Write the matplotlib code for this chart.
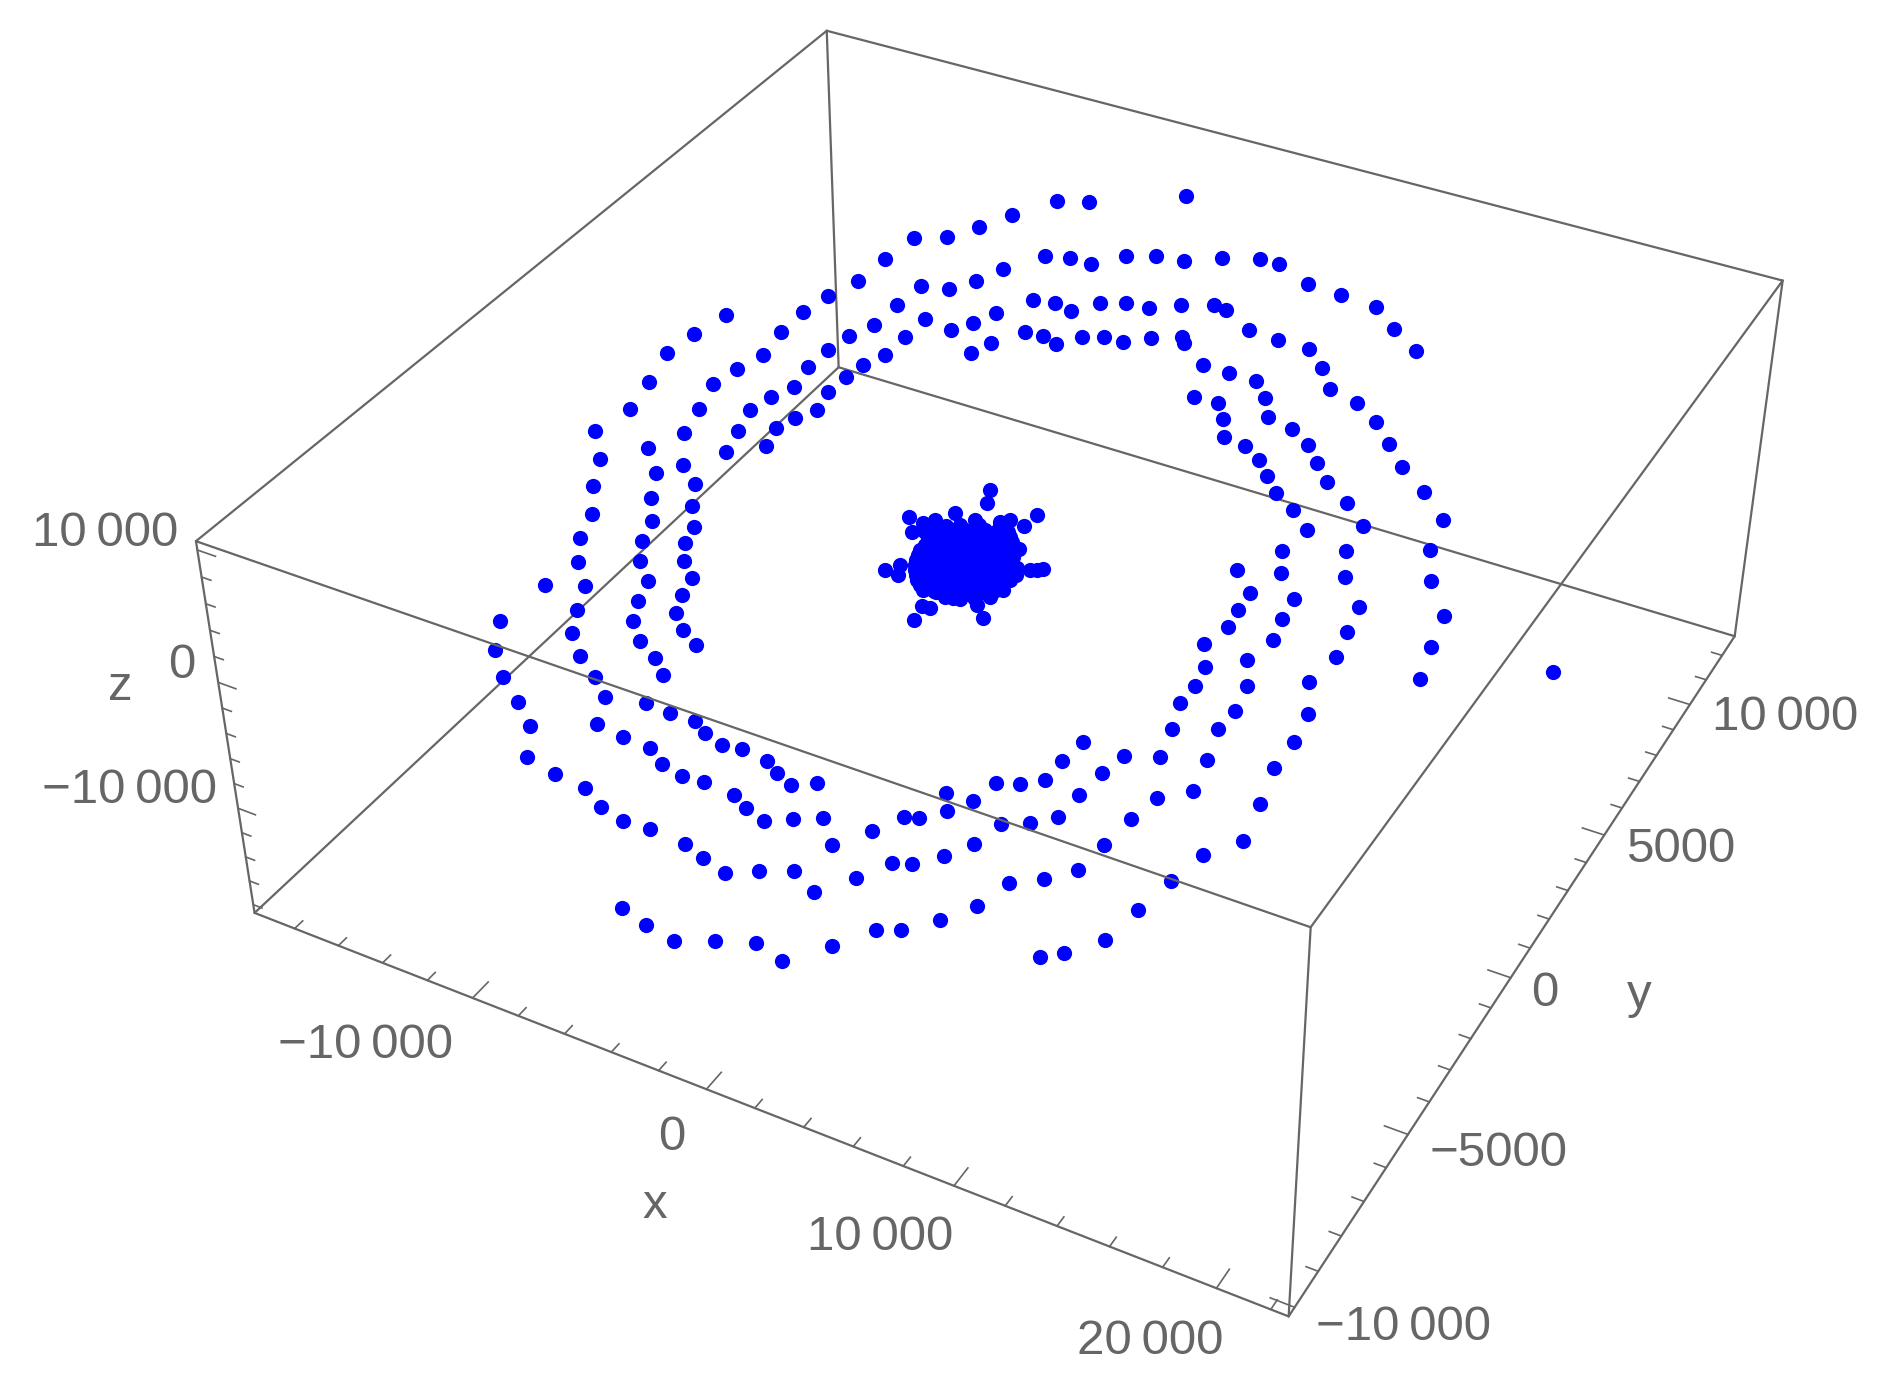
import numpy as np
import matplotlib
matplotlib.use('Agg')
import matplotlib.pyplot as plt

plt.rcParams['font.family'] = ['Liberation Sans', 'DejaVu Sans']

# box limits
x_lim = (-19850, 22650)
y_lim = (-10250, 12800)
z_lim = (-18700, 10650)

# points, in tens of data units, on the plane z = 0
ring_x = [-1703,-1438,-1741,-1441,-1758,-1412,-1708,-1449,-1208,-1473,-1180,-1665,-1428,-1223,
          -1249,-1701,-1062,-1387,-1208,-1091,-1453,-1176,-1060,-948,-827,-1062,-1136,-1213,
          -1332,-1354,-1364,-1413,-781,-679,-579,-484,-884,-937,-1002,-1116,-1132,-1136,
          -1182,-1203,-658,-569,-484,-406,-313,-213,-745,-789,-843,-973,-981,-981,
          -1023,-1037,-1045,-1016,-569,-493,-417,-351,-273,-188,-102,-650,-687,-486,
          -372,-252,-124,19,107,276,434,599,731,877,-107,12,71,219,
          355,492,597,689,826,949,1056,4,32,171,288,408,491,560,
          678,780,242,345,414,472,572,-1578,-1272,-1333,-1160,-1497,-1259,-1095,
          -1396,-1172,-1013,-1349,-1137,-986,-1268,-1069,-925,-844,-1297,-1162,-976,-817,
          -938,-1106,-778,-888,-1315,-700,-1043,-800,-1230,-609,-939,-697,-617,-1112,
          -823,-728,-983,-582,-476,-374,-867,-667,-306,-546,-430,-219,-146,-779,
          -641,-343,-35,30,-249,-165,106,-506,-39,-400,38,208,125,-292,
          -189,-45,49,154,251,353,466,-48,68,189,309,429,553,180,
          295,394,658,551,476,743,620,815,535,679,582,904,753,596,
          648,697,811,975,721,842,1014,797,925,1279,1105,862,995,865,
          1338,1184,1003,876,1015,1198,1426,1039,1217,1452,1267,1501,1118,1258,
          1525,1152,1303,1525,1246,1335,1568,1601,1515,1483,659,867,1164,734,
          955,1308,812,1078,920,1444,1195,1021,996,1206,1479,904,1052,1272,
          1562,1007,1166,1394,1015,1689,1180,1029,1419,1204,997,1725,1448,1173,
          1060,2167,1765,1425,1240,1079,1078]
ring_y = [571,663,472,569,377,469,263,396,477,320,393,155,224,337,
          273,49,292,131,191,240,47,114,172,1355,1387,1250,1167,1092,
          1054,942,831,747,1126,1146,1144,1213,1032,959,900,883,787,691,
          625,556,948,959,948,1006,1034,1041,862,800,753,764,681,595,
          539,479,413,339,822,826,811,863,886,890,932,748,691,1518,
          1246,1258,1309,1347,1347,1300,1291,1283,1220,1160,1086,1119,1114,1064,
          1059,1057,1000,933,911,863,801,967,949,888,886,886,835,772,
          756,717,766,769,720,661,650,-34,31,-23,-18,-125,-103,-87,
          -209,-172,-148,-291,-240,-207,-364,-302,-260,-302,-461,-425,-352,-360,
          -418,-499,-415,-479,-603,-456,-569,-525,-686,-485,-623,-559,-597,-750,
          -665,-709,-801,-686,-693,-690,-851,-787,-712,-797,-801,-728,-721,-933,
          -950,-830,-727,-749,-843,-838,-768,-957,-843,-990,-866,-850,-881,-1005,
          -1000,-1006,-1025,-1041,-1007,-977,-1009,-1210,-1228,-1241,-1207,-1176,-1196,-739,
          -821,-880,-1120,-940,-813,-1045,-873,-1024,-749,-858,-738,-969,-810,-652,
          -697,-647,-755,-904,-582,-683,-820,-562,-653,-970,-780,-531,-614,-466,
          -940,-730,-540,-395,-460,-644,-876,-396,-554,-777,-173,-117,-280,-239,
          -206,-367,-333,-295,-479,-428,-402,-513,-584,-677,617,664,734,573,
          610,672,525,561,486,599,501,435,343,404,489,241,274,324,
          393,183,208,244,121,296,135,61,157,65,-12,191,73,-18,
          -75,229,87,-25,-92,-140,-202]
# the central clump, its outline first; the inside is a solid mass, so these are estimates
core_x = [-153,-119,81,10,74,-333,-269,
          -277,-194,-243,-210,-186,229,251,268,-12,21,7,218,161,-239,
          -106,-17,-233,-174,-108,-42,40,-191,-119,-60,6,85,-192,-120,
          -61,11,70,122,-174,-105,-46,25,84,143,-145,-90,-31,40,
          99,157,-108,-27,32,103,161,194,-57,20,79,149,201,35,
          90,138,180,
          -185,-140,-75,-5,-212,-146,-84,-18,62,-192,-120,-60,8,78,128,
          -183,-112,-53,18,77,132,180,-160,-98,-38,32,92,150,200,
          -126,-58,2,72,130,176,-82,-3,55,126,181,-10,63,115,165,
          -203,-141,-75,0,-155,-90,-27,45,-156,-90,-25,40,96,
          -140,-75,-10,55,113,-118,-60,5,70,128,-68,2,67,132,178,-18,50,114,175]
core_y = [253,209,221,179,174,89,86,
          46,146,-94,-64,-96,45,51,61,-164,-163,-212,-141,-110,106,
          145,163,59,85,104,123,139,40,53,78,97,112,0,13,
          38,51,76,84,-34,-22,3,16,41,51,-65,-57,-32,-19,
          6,24,-93,-77,-52,-39,-14,-4,-116,-102,-77,-64,-41,-116,
          -108,-94,-74,
          98,115,132,150,50,70,90,110,125,20,33,58,74,94,98,
          -17,-5,20,33,58,68,38,-50,-40,-15,-2,23,38,15,
          -79,-67,-42,-29,-4,10,-105,-90,-64,-52,-27,-110,-110,-86,-68,
          72,95,113,131,46,65,88,104,6,25,44,64,80,
          -28,-10,10,28,46,-61,-45,-25,-7,15,-85,-65,-45,-27,-9,-109,-90,-70,-52]

x_major = [-10000, 0, 10000, 20000]
y_major = [-10000, -5000, 0, 5000, 10000]
z_major = [-10000, 0, 10000]
x_minor = [-18000,-16000,-14000,-12000,-8000,-6000,-4000,-2000,2000,4000,6000,8000,
           12000,14000,16000,18000,22000]
y_minor = [-9000,-8000,-7000,-6000,-4000,-3000,-2000,-1000,1000,2000,3000,4000,
           6000,7000,8000,9000,11000,12000]
z_minor = [-18000,-16000,-14000,-12000,-8000,-6000,-4000,-2000,2000,4000,6000,8000]

grey = '#666666'
W = 1893
H = 1395

xs = np.array(ring_x + core_x) * 10
ys = np.array(ring_y + core_y) * 10
zs = np.zeros(len(xs))

fig = plt.figure(figsize=(W / 100, H / 100), dpi=100)
# camera values come from fitting the box corners
ax_w = 1608.09
ax = fig.add_axes([202.83 / W, (H - 1418.38) / H, ax_w / W, ax_w / H],
                  projection='3d', computed_zorder=False)
ax.set_xlim(*x_lim)
ax.set_ylim(*y_lim)
ax.set_zlim(*z_lim)
ax.set_box_aspect((1, 1, 0.3993))
ax.view_init(elev=36.185, azim=-61.534, roll=0.04)
ax.set_proj_type('persp', focal_length=0.4419)
ax.set_axis_off()
ax.patch.set_alpha(0)


def edge(a, b, zo):
    ax.plot([a[0], b[0]], [a[1], b[1]], [a[2], b[2]], color=grey, lw=1.6, zorder=zo,
            solid_capstyle='round', clip_on=False)


x0, x1 = x_lim
y0, y1 = y_lim
z0, z1 = z_lim
# back and bottom edges sit under the dots, top edges over them
edge((x0, y0, z0), (x1, y0, z0), 1)
edge((x1, y0, z0), (x1, y1, z0), 1)
edge((x1, y1, z0), (x0, y1, z0), 1)
edge((x0, y1, z0), (x0, y0, z0), 1)
edge((x0, y0, z0), (x0, y0, z1), 1)
edge((x1, y0, z0), (x1, y0, z1), 1)
edge((x1, y1, z0), (x1, y1, z1), 1)
edge((x0, y1, z0), (x0, y1, z1), 1)
edge((x0, y0, z1), (x1, y0, z1), 3)
edge((x1, y0, z1), (x1, y1, z1), 3)
edge((x1, y1, z1), (x0, y1, z1), 3)
edge((x0, y1, z1), (x0, y0, z1), 3)


def tick(a, b):
    ax.plot([a[0], b[0]], [a[1], b[1]], [a[2], b[2]], color=grey, lw=1.2, zorder=1, clip_on=False)


y_span = y1 - y0
x_span = x1 - x0
for v, n in [(t, 0.023) for t in x_major] + [(t, 0.0115) for t in x_minor]:
    tick((v, y0, z0), (v, y0 + n * y_span, z0))
for v, n in [(t, 0.021) for t in y_major] + [(t, 0.0105) for t in y_minor]:
    tick((x1, v, z0), (x1 - n * x_span, v, z0))
for v, n in [(t, 0.0185) for t in z_major] + [(t, 0.0095) for t in z_minor]:
    tick((x0, y0, v), (x0 + n * x_span, y0, v))

ax.scatter(xs, ys, zs, s=120, c='#0000ff', linewidths=0, depthshade=False, zorder=2, clip_on=False)

labels = [('10\u2009000', 105, 534), ('0', 182, 666), ('\u221210\u2009000', 130, 791), ('z', 120, 688),
          ('\u221210\u2009000', 366, 1046), ('0', 672, 1138), ('10\u2009000', 880, 1237), ('20\u2009000', 1150, 1341),
          ('x', 655, 1206),
          ('\u221210\u2009000', 1403, 1328), ('\u22125000', 1499, 1153), ('0', 1545, 994), ('5000', 1681, 850),
          ('10\u2009000', 1785, 718), ('y', 1639, 995)]
for s, px, py in labels:
    fig.text(px / W, 1 - py / H, s, color=grey, fontsize=35.5, ha='center', va='center')

fig.savefig('out.png', dpi=100)
